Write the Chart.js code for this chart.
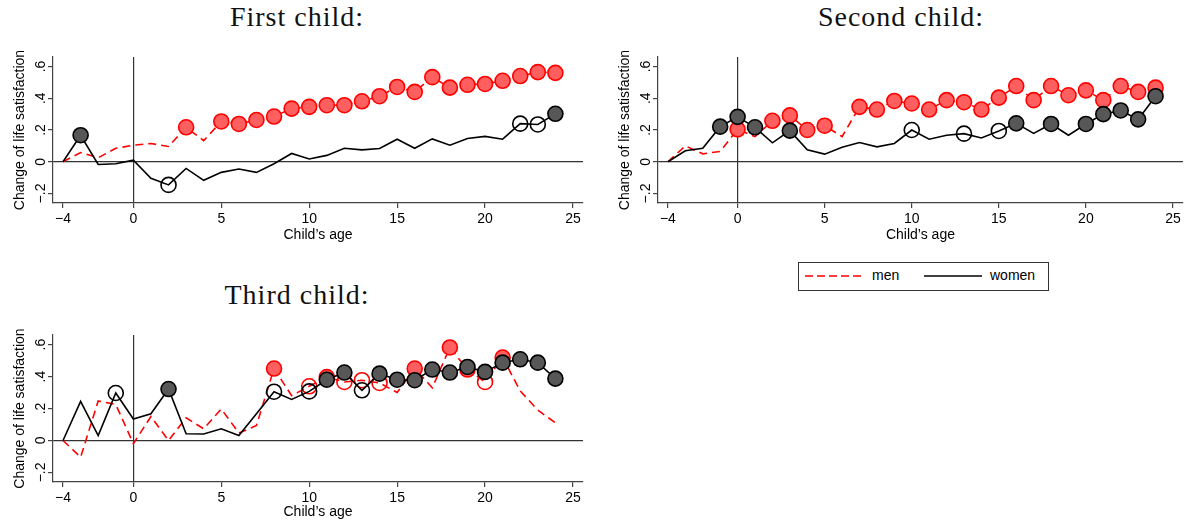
<!DOCTYPE html>
<html>
<head>
<meta charset="utf-8">
<script src="https://cdn.jsdelivr.net/npm/chart.js@4.4.0/dist/chart.umd.min.js"></script>
<style>
  body { margin: 0; background: #fff; width: 1192px; height: 525px; position: relative; overflow: hidden; }
  canvas { position: absolute; }
  .title { position: absolute; width: 300px; text-align: center; font: 28px "Liberation Serif", "Times New Roman", serif; letter-spacing: 1px; line-height: 30px; color: #111; }
  #legend { position: absolute; left: 798px; top: 262px; width: 251px; height: 29px; box-sizing: border-box; border: 1px solid #333; font: 14px "Liberation Sans", Arial, sans-serif; }
  #legend svg, #legend span { position: absolute; }
</style>
</head>
<body>
<div class="title" style="left:147px;top:2px">First child:</div>
<div class="title" style="left:751px;top:2px">Second child:</div>
<div class="title" style="left:147px;top:280px">Third child:</div>

<canvas id="first" width="596" height="250" style="left:0;top:0"></canvas>
<canvas id="second" width="587" height="250" style="left:605px;top:0"></canvas>
<canvas id="third" width="596" height="247" style="left:0;top:278px"></canvas>

<div id="legend">
  <svg style="left:6px;top:11px" width="58" height="4"><line x1="0" y1="2" x2="58" y2="2" stroke="#ff0000" stroke-width="1.6" stroke-dasharray="8 4"/></svg>
  <span style="left:73px;top:4px">men</span>
  <svg style="left:125px;top:11px" width="58" height="4"><line x1="0" y1="2" x2="58" y2="2" stroke="#000" stroke-width="1.6"/></svg>
  <span style="left:191px;top:4px">women</span>
</div>

<script>
const ages = [-4, -3, -2, -1, 0, 1, 2, 3, 4, 5, 6, 7, 8, 9, 10, 11, 12, 13, 14, 15, 16, 17, 18, 19, 20, 21, 22, 23, 24];
const xTicks = [-4, 0, 5, 10, 15, 20, 25];
const yTicks = [-0.2, 0, 0.2, 0.4, 0.6];

// 2 = filled marker, 1 = hollow marker, 0 = no marker
const firstMen = [0, 0.058, 0.025, 0.085, 0.104, 0.115, 0.096, 0.217, 0.133, 0.254, 0.238, 0.263, 0.285, 0.335, 0.346, 0.356, 0.356, 0.381, 0.413, 0.471, 0.44, 0.533, 0.467, 0.485, 0.49, 0.51, 0.54, 0.565, 0.56];
const firstMenSig = [0, 0, 0, 0, 0, 0, 0, 2, 0, 2, 2, 2, 2, 2, 2, 2, 2, 2, 2, 2, 2, 2, 2, 2, 2, 2, 2, 2, 2];
const firstWomen = [0, 0.167, -0.017, -0.013, 0.01, -0.104, -0.146, -0.042, -0.117, -0.067, -0.046, -0.067, -0.013, 0.052, 0.017, 0.04, 0.085, 0.075, 0.083, 0.142, 0.085, 0.144, 0.104, 0.146, 0.16, 0.142, 0.24, 0.235, 0.302];
const firstWomenSig = [0, 2, 0, 0, 0, 0, 1, 0, 0, 0, 0, 0, 0, 0, 0, 0, 0, 0, 0, 0, 0, 0, 0, 0, 0, 0, 1, 1, 2];

const secondMen = [0, 0.1, 0.05, 0.065, 0.204, 0.158, 0.258, 0.292, 0.2, 0.227, 0.158, 0.346, 0.329, 0.383, 0.367, 0.329, 0.388, 0.375, 0.329, 0.404, 0.477, 0.388, 0.477, 0.419, 0.45, 0.388, 0.477, 0.44, 0.467];
const secondMenSig = [0, 0, 0, 0, 2, 0, 2, 2, 2, 2, 0, 2, 2, 2, 2, 2, 2, 2, 2, 2, 2, 2, 2, 2, 2, 2, 2, 2, 2];
const secondWomen = [0, 0.069, 0.085, 0.221, 0.283, 0.217, 0.119, 0.196, 0.075, 0.048, 0.092, 0.121, 0.094, 0.115, 0.2, 0.142, 0.167, 0.177, 0.15, 0.194, 0.242, 0.179, 0.238, 0.167, 0.238, 0.3, 0.323, 0.267, 0.413];
const secondWomenSig = [0, 0, 0, 2, 2, 2, 0, 2, 0, 0, 0, 0, 0, 0, 1, 0, 0, 1, 0, 1, 2, 0, 2, 0, 2, 2, 2, 2, 2];

const thirdMen = [0, -0.105, 0.247, 0.225, -0.02, 0.15, 0, 0.142, 0.073, 0.197, 0.046, 0.094, 0.45, 0.28, 0.339, 0.397, 0.366, 0.377, 0.36, 0.3, 0.45, 0.33, 0.582, 0.444, 0.366, 0.519, 0.31, 0.19, 0.11];
const thirdMenSig = [0, 0, 0, 0, 0, 0, 0, 0, 0, 0, 0, 0, 2, 0, 1, 2, 1, 1, 1, 0, 2, 0, 2, 2, 1, 2, 0, 0, 0];
const thirdWomen = [0, 0.245, 0.03, 0.297, 0.134, 0.167, 0.322, 0.042, 0.04, 0.073, 0.031, 0.167, 0.305, 0.257, 0.307, 0.38, 0.425, 0.314, 0.418, 0.38, 0.377, 0.444, 0.425, 0.46, 0.429, 0.487, 0.508, 0.487, 0.387];
const thirdWomenSig = [0, 0, 0, 1, 0, 0, 2, 0, 0, 0, 0, 0, 1, 0, 1, 2, 2, 1, 2, 2, 2, 2, 2, 2, 2, 2, 2, 2, 2];

Chart.defaults.font.family = "'Liberation Sans', Arial, sans-serif";
Chart.defaults.font.size = 14;
Chart.defaults.color = "#000";

const toPoints = (values) => ages.map((a, i) => ({ x: a, y: values[i] }));

const zeroLine = (ctx) =>
  ctx.tick && ctx.tick.value === 0 ? "#333" : "rgba(0,0,0,0)";

const formatY = (v) => {
  if (Math.abs(v) < 1e-9) return "0";
  const s = Math.abs(v).toFixed(1).replace("0.", ".");
  return v < 0 ? "\u2212" + s : s;
};

const makeChart = (id, men, menSig, women, womenSig, rightPad, xHeight, titleBottom) => {
  new Chart(document.getElementById(id), {
    type: "line",
    data: {
      datasets: [
        {
          label: "men",
          data: toPoints(men),
          borderColor: "#ff0000",
          borderWidth: 1.6,
          borderDash: [8, 5],
          pointRadius: menSig.map((s) => (s ? 7.5 : 0)),
          pointBackgroundColor: menSig.map((s) => (s === 2 ? "#ff5f5f" : "rgba(0,0,0,0)")),
          pointBorderColor: "#ff0000",
          pointBorderWidth: 1.6,
          order: 2,
        },
        {
          label: "women",
          data: toPoints(women),
          borderColor: "#000",
          borderWidth: 1.6,
          pointRadius: womenSig.map((s) => (s ? 7.5 : 0)),
          pointBackgroundColor: womenSig.map((s) => (s === 2 ? "#575757" : "rgba(0,0,0,0)")),
          pointBorderColor: "#000",
          pointBorderWidth: 1.6,
          order: 1,
        },
      ],
    },
    options: {
      responsive: false,
      animation: false,
      events: [],
      layout: { padding: { top: 57, right: rightPad, bottom: 0, left: 0 } },
      plugins: { legend: { display: false }, tooltip: { enabled: false } },
      scales: {
        x: {
          type: "linear",
          min: -4.57,
          max: 25.57,
          afterBuildTicks: (scale) => {
            scale.ticks = xTicks.map((v) => ({ value: v }));
          },
          afterFit: (scale) => {
            scale.height = xHeight;
          },
          ticks: {
            autoSkip: false,
            maxRotation: 0,
            padding: 3,
            callback: (v) => (v < 0 ? "\u2212" + Math.abs(v) : String(v)),
          },
          grid: { color: zeroLine, lineWidth: 1.2, tickColor: "#444", tickLength: 5 },
          border: { display: true, color: "#444", width: 1.2 },
          title: { display: true, text: "Child\u2019s age", padding: { top: 0, bottom: titleBottom } },
        },
        y: {
          min: -0.26,
          max: 0.66,
          afterBuildTicks: (scale) => {
            scale.ticks = yTicks.map((v) => ({ value: v }));
          },
          afterFit: (scale) => {
            scale.width = 53;
          },
          ticks: {
            minRotation: 90,
            maxRotation: 90,
            crossAlign: "center",
            padding: -3,
            callback: formatY,
          },
          grid: { color: zeroLine, lineWidth: 1.2, tickColor: "#444", tickLength: 5 },
          border: { display: true, color: "#444", width: 1.2 },
          title: { display: true, text: "Change of life satisfaction", padding: { top: 11.6, bottom: 0 } },
        },
      },
    },
  });
};

makeChart("first", firstMen, firstMenSig, firstWomen, firstWomenSig, 13, 47, 6.6);
makeChart("second", secondMen, secondMenSig, secondWomen, secondWomenSig, 4, 47, 6.6);
makeChart("third", thirdMen, thirdMenSig, thirdWomen, thirdWomenSig, 13, 43, 4.6);
</script>
</body>
</html>
